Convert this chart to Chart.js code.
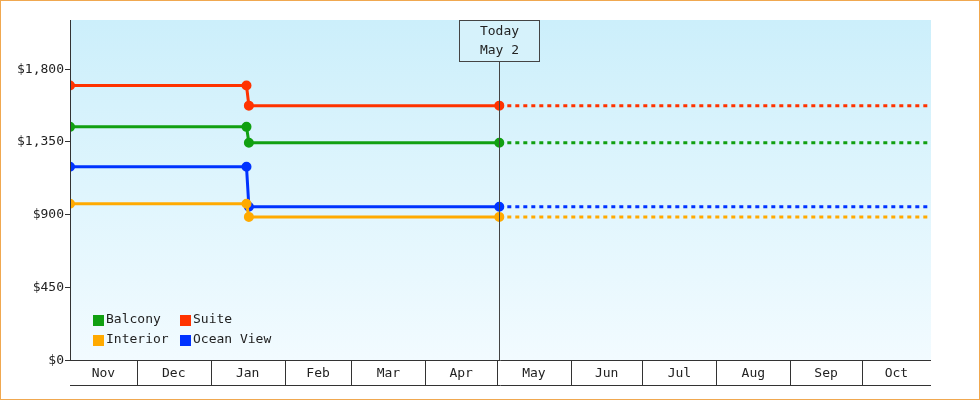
<!DOCTYPE html>
<html><head><meta charset="utf-8">
<script src="https://cdn.jsdelivr.net/npm/chart.js@4"></script>
<style>
html,body{margin:0;padding:0;background:#fff}
#wrap{position:relative;width:978px;height:398px;border:1px solid #f0a850}
</style></head>
<body><div id="wrap"><canvas id="c" width="978" height="398"></canvas></div>
<script>
// days counted from Nov 1
const monthLabels = ['Nov','Dec','Jan','Feb','Mar','Apr','May','Jun','Jul','Aug','Sep','Oct'];
const monthStarts = [0,30,61,92,120,151,181,212,242,273,304,334,365];
const yTicks = [0,450,900,1350,1800];
const todayDay = 182;
const startDay = 2, endDay = 363;
const dropDays = [76, 77];

const balcony   = [1440, 1440, 1342, 1342, 1342];
const suite     = [1695, 1695, 1571, 1571, 1571];
const interior  = [965, 965, 884, 884, 884];
const oceanView = [1194, 1194, 946, 946, 946];

const names  = ['Balcony','Suite','Interior','Ocean View'];
const colors = ['#11a011','#ff3300','#ffaa00','#0033ff'];
const series = [balcony, suite, interior, oceanView];
const xs = [startDay, dropDays[0], dropDays[1], todayDay, endDay];

function money(v){ return '$' + v.toLocaleString('en-US'); }

const datasets = series.map((s, i) => ({
  label: names[i],
  data: s.map((v, k) => ({x: xs[k], y: v})),
  borderColor: colors[i], backgroundColor: colors[i],
  borderWidth: 3, pointRadius: s.map((v,k) => k === 4 ? 0 : 3.5),
  pointHoverRadius: 0, tension: 0,
  segment: { borderDash: c => c.p0.parsed.x >= todayDay ? [4,4] : undefined }
}));

const FONT = '13px "DejaVu Sans Mono", monospace';

const decor = {
  id: 'decor',
  beforeDraw(chart) {
    const {ctx, chartArea: a} = chart;
    const g = ctx.createLinearGradient(0, a.top, 0, a.bottom);
    g.addColorStop(0, '#cceffb'); g.addColorStop(1, '#f2fbff');
    ctx.fillStyle = g; ctx.fillRect(a.left, a.top, a.right - a.left, a.bottom - a.top);
  },
  afterDraw(chart) {
    const {ctx, chartArea: a, scales: {x, y}} = chart;
    ctx.save();
    ctx.font = FONT; ctx.fillStyle = '#222'; ctx.strokeStyle = '#333'; ctx.lineWidth = 1;
    // y axis
    ctx.beginPath(); ctx.moveTo(a.left + .5, a.top); ctx.lineTo(a.left + .5, a.bottom); ctx.stroke();
    ctx.textAlign = 'right'; ctx.textBaseline = 'middle';
    yTicks.forEach(t => {
      const py = Math.round(y.getPixelForValue(t)) + .5;
      ctx.beginPath(); ctx.moveTo(a.left - 5, py); ctx.lineTo(a.left, py); ctx.stroke();
      ctx.fillText(money(t), a.left - 6, py);
    });
    // x axis cells
    const bot = a.bottom + 25;
    ctx.beginPath();
    ctx.moveTo(a.left, a.bottom + .5); ctx.lineTo(a.right, a.bottom + .5);
    ctx.moveTo(a.left, bot + .5); ctx.lineTo(a.right, bot + .5);
    ctx.stroke();
    ctx.textAlign = 'center';
    monthLabels.forEach((m, i) => {
      const l = Math.max(a.left, x.getPixelForValue(monthStarts[i]));
      const r = Math.min(a.right, x.getPixelForValue(monthStarts[i + 1]));
      if (i > 0) { ctx.beginPath(); ctx.moveTo(Math.round(l) + .5, a.bottom); ctx.lineTo(Math.round(l) + .5, bot); ctx.stroke(); }
      ctx.fillText(m, (l + r) / 2, a.bottom + 14);
    });
    // today marker
    const tx = Math.round(x.getPixelForValue(todayDay)) + .5;
    ctx.strokeStyle = '#444';
    ctx.beginPath(); ctx.moveTo(tx, a.top + 41); ctx.lineTo(tx, a.bottom); ctx.stroke();
    ctx.fillStyle = '#d6f2fb';
    ctx.fillRect(tx - 40, a.top, 80, 41);
    ctx.strokeRect(tx - 40, a.top + .5, 80, 41);
    ctx.fillStyle = '#222';
    ctx.fillText('Today', tx, a.top + 12);
    ctx.fillText('May 2', tx, a.top + 31);
    // legend
    ctx.textAlign = 'left';
    const pos = [[a.left + 23, a.bottom - 40], [a.left + 110, a.bottom - 40], [a.left + 23, a.bottom - 20], [a.left + 110, a.bottom - 20]];
    names.forEach((n, i) => {
      ctx.fillStyle = colors[i];
      ctx.fillRect(pos[i][0], pos[i][1] - 5, 11, 11);
      ctx.fillStyle = '#222';
      ctx.fillText(n, pos[i][0] + 13, pos[i][1]);
    });
    ctx.restore();
  }
};

new Chart(document.getElementById('c'), {
  type: 'line',
  data: { datasets },
  plugins: [decor],
  options: {
    responsive: false, animation: false,
    layout: { padding: { top: 19, right: 48, left: 0, bottom: 0 } },
    plugins: { legend: { display: false }, tooltip: { enabled: false } },
    scales: {
      x: { type: 'linear', min: startDay, max: endDay, grid: { display: false }, border: { display: false },
           ticks: { display: false }, afterFit: s => { s.height = 39; } },
      y: { min: 0, max: 2100, grid: { display: false }, border: { display: false },
           ticks: { display: false }, afterFit: s => { s.width = 69; } }
    }
  }
});
</script></body></html>
